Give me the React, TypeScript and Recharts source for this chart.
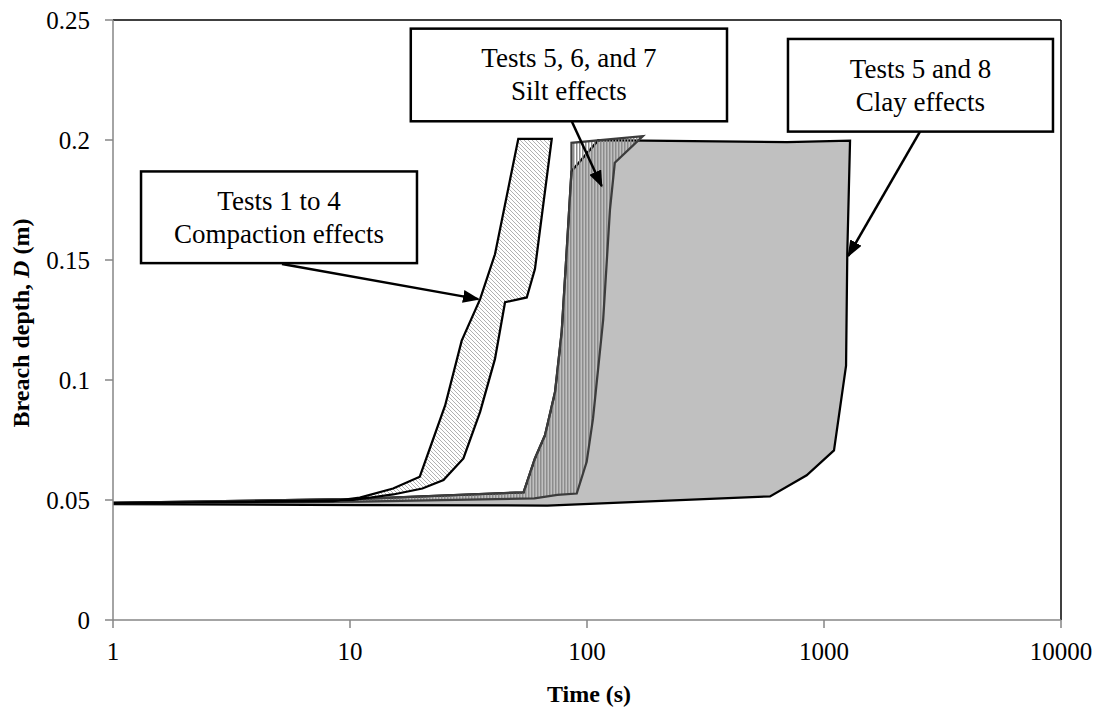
import React from "react";
import {
  Area,
  ComposedChart,
  Label,
  ReferenceArea,
  ReferenceLine,
  XAxis,
  YAxis,
} from "recharts";

const xTicks = [1, 10, 100, 1000, 10000];
const yTicks = [0, 0.05, 0.1, 0.15, 0.2, 0.25];

// Tests 1 to 4 (compaction): outline of the band, time (s) / breach depth (m)
const compactionTime = [
  1, 8.5, 11, 15.2, 19.7, 25.2, 29.6, 35.4, 40.9, 51.3, 71, 60.3, 55.7, 45.1,
  40.9, 35.4, 30.1, 24.8, 20.2, 15.2, 10.3, 1, 1,
];
const compactionDepth = [
  0.0488, 0.0495, 0.051, 0.0548, 0.0597, 0.0894, 0.1164, 0.1337, 0.1524,
  0.2005, 0.2005, 0.1462, 0.1344, 0.1324, 0.1088, 0.0867, 0.0673, 0.0583,
  0.0548, 0.0523, 0.05, 0.0485, 0.0488,
];

// Tests 5, 6 and 7 (silt)
const siltTime = [
  1, 11, 54, 60.3, 66.5, 73.3, 78.2, 82, 86, 86, 172, 131, 125, 117, 106,
  99.7, 90.5, 75, 60, 11, 1, 1,
];
const siltDepth = [
  0.0488, 0.0505, 0.0532, 0.0673, 0.077, 0.095, 0.12, 0.153, 0.187, 0.1988,
  0.2016, 0.1905, 0.171, 0.125, 0.0839, 0.0659, 0.0527, 0.0521, 0.0507,
  0.0493, 0.0486, 0.0488,
];

// Tests 5 and 8 (clay)
const clayTime = [
  1, 11, 54, 60.3, 66.5, 73.3, 78.2, 82, 86, 111.6, 699, 1288, 1254, 1239,
  1102, 845, 592, 68, 11, 1, 1,
];
const clayDepth = [
  0.0488, 0.0505, 0.0532, 0.0673, 0.077, 0.095, 0.12, 0.153, 0.187, 0.1999,
  0.1991, 0.1997, 0.153, 0.106, 0.0707, 0.0603, 0.0515, 0.0477, 0.0479,
  0.0483, 0.0488,
];

const calloutLines = [
  ["Tests 1 to 4", "Compaction effects"],
  ["Tests 5, 6, and 7", "Silt effects"],
  ["Tests 5 and 8", "Clay effects"],
];
// box corners in data units: [t left, t right, D top, D bottom]
const calloutBoxes = [
  [1.313, 19.17, 0.1869, 0.1487],
  [18.05, 389.7, 0.2464, 0.2078],
  [704.7, 9250, 0.2421, 0.2035],
];
// arrows in data units: [t from, D from, t to, D to]
const calloutArrows = [
  [5.165, 0.1483, 34.78, 0.1337],
  [86.4, 0.2076, 115.3, 0.1808],
  [2541, 0.2035, 1266, 0.1517],
];

const rows = [
  ...compactionTime.map((t, i) => ({ t, compaction: compactionDepth[i] })),
  ...siltTime.map((t, i) => ({ t, silt: siltDepth[i] })),
  ...clayTime.map((t, i) => ({ t, clay: clayDepth[i] })),
];

const FONT = "'Liberation Serif', 'Times New Roman', serif";
const AXIS_GREY = "#868686";

function CalloutBox(props: any) {
  const { x, y, width, height, lines } = props;
  const cx = x + width / 2;
  const cy = y + height / 2;
  return (
    <g>
      <rect x={x} y={y} width={width} height={height} fill="#fff" stroke="#000" strokeWidth={2.5} />
      {lines.map((line: string, i: number) => (
        <text
          key={line}
          x={cx}
          y={cy + (i === 0 ? -16.5 : 16.5)}
          textAnchor="middle"
          dominantBaseline="central"
          fontFamily={FONT}
          fontSize={27}
          fill="#000"
        >
          {line}
        </text>
      ))}
    </g>
  );
}

function Arrow(props: any) {
  const { x1, y1, x2, y2 } = props;
  return (
    <line
      x1={x1}
      y1={y1}
      x2={x2}
      y2={y2}
      stroke="#000"
      strokeWidth={2.5}
      markerEnd="url(#arrowHead)"
    />
  );
}

function YTitle(props: any) {
  const { viewBox } = props;
  const cx = viewBox.x + 21;
  const cy = viewBox.y + viewBox.height / 2 + 3;
  return (
    <text
      x={cx}
      y={cy}
      transform={`rotate(-90, ${cx}, ${cy})`}
      textAnchor="middle"
      dominantBaseline="central"
      fontFamily={FONT}
      fontWeight="bold"
      fontSize={24}
      fill="#000"
    >
      Breach depth, <tspan fontStyle="italic">D</tspan> (m)
    </text>
  );
}

function XTitle(props: any) {
  const { viewBox } = props;
  return (
    <text
      x={viewBox.x + viewBox.width / 2 + 2}
      y={694}
      textAnchor="middle"
      dominantBaseline="central"
      fontFamily={FONT}
      fontWeight="bold"
      fontSize={24}
      fill="#000"
    >
      Time (s)
    </text>
  );
}

export default function App() {
  return (
    <div
      style={{
        position: "absolute",
        left: 0,
        top: 0,
        width: 1101,
        height: 708,
        background: "#fff",
      }}
    >
      <ComposedChart
        width={1101}
        height={708}
        data={rows}
        margin={{ top: 20, right: 40, bottom: 0, left: 0 }}
      >
        <defs>
          <pattern id="hatchDiag" patternUnits="userSpaceOnUse" width="4" height="4">
            <rect width="4" height="4" fill="#fff" />
            <path d="M-1,-1 L5,5 M-1,3 L1,5 M3,-1 L5,1" stroke="#a8a8a8" strokeWidth="0.9" />
          </pattern>
          <pattern id="vStripes" patternUnits="userSpaceOnUse" width="3" height="3">
            <rect x="0" y="0" width="1.5" height="3" fill="#8c8c8c" />
          </pattern>
          <marker
            id="arrowHead"
            viewBox="0 0 10 10"
            refX="9"
            refY="5"
            markerWidth="17"
            markerHeight="13"
            markerUnits="userSpaceOnUse"
            preserveAspectRatio="none"
            orient="auto"
          >
            <path d="M0,0 L10,5 L0,10 z" fill="#000" />
          </marker>
        </defs>

        <XAxis
          dataKey="t"
          type="number"
          scale="log"
          domain={[1, 10000]}
          ticks={xTicks}
          allowDataOverflow
          height={88}
          tickSize={8}
          tickMargin={14}
          tick={{ fill: "#000", fontSize: 25, fontFamily: FONT }}
          axisLine={{ stroke: AXIS_GREY, strokeWidth: 1.5 }}
          tickLine={{ stroke: AXIS_GREY, strokeWidth: 1.5 }}
        >
          <Label content={XTitle} />
        </XAxis>
        <YAxis
          type="number"
          domain={[0, 0.25]}
          ticks={yTicks}
          allowDataOverflow
          width={113}
          tickSize={8}
          tickMargin={15}
          tick={{ fill: "#000", fontSize: 25, fontFamily: FONT }}
          axisLine={{ stroke: AXIS_GREY, strokeWidth: 1.5 }}
          tickLine={{ stroke: AXIS_GREY, strokeWidth: 1.5 }}
        >
          <Label content={YTitle} />
        </YAxis>

        <ReferenceLine y={0.25} stroke="#000" strokeWidth={1.5} ifOverflow="visible" />
        <ReferenceLine x={10000} stroke="#000" strokeWidth={1.5} ifOverflow="visible" />

        <Area
          dataKey="clay"
          type="linear"
          connectNulls
          baseValue={0}
          fill="#c0c0c0"
          fillOpacity={1}
          stroke="#000"
          strokeWidth={2.25}
          isAnimationActive={false}
          activeDot={false}
        />
        <Area
          dataKey="silt"
          type="linear"
          connectNulls
          baseValue={0}
          fill="url(#vStripes)"
          fillOpacity={1}
          stroke="#3c3c3c"
          strokeWidth={2.25}
          isAnimationActive={false}
          activeDot={false}
        />
        <Area
          dataKey="compaction"
          type="linear"
          connectNulls
          baseValue={0}
          fill="url(#hatchDiag)"
          fillOpacity={1}
          stroke="#000"
          strokeWidth={2.25}
          isAnimationActive={false}
          activeDot={false}
        />

        {calloutBoxes.map((b, i) => (
          <ReferenceArea
            key={`box-${i}`}
            x1={b[0]}
            x2={b[1]}
            y1={b[2]}
            y2={b[3]}
            ifOverflow="visible"
            shape={(p: any) => <CalloutBox {...p} lines={calloutLines[i]} />}
          />
        ))}
        {calloutArrows.map((a, i) => (
          <ReferenceLine
            key={`arrow-${i}`}
            segment={[
              { x: a[0], y: a[1] },
              { x: a[2], y: a[3] },
            ]}
            ifOverflow="visible"
            shape={Arrow}
          />
        ))}
      </ComposedChart>
    </div>
  );
}
